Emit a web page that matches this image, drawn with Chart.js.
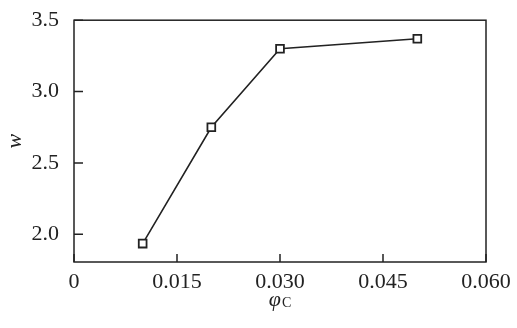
<!DOCTYPE html>
<html>
<head>
<meta charset="utf-8">
<script src="https://cdn.jsdelivr.net/npm/chart.js@4"></script>
<style>
  html, body { margin: 0; padding: 0; background: #fff; }
  #box { width: 517px; height: 328px; }
</style>
</head>
<body>
<div id="box"><canvas id="grafico"></canvas></div>
<script>
const phiC = [0.010, 0.020, 0.030, 0.050]
const wValues = [1.935, 2.75, 3.30, 3.37]
const xTicks = [0, 0.015, 0.030, 0.045, 0.060]
const xTickLabels = ['0', '0.015', '0.030', '0.045', '0.060']
const yTicks = [2.0, 2.5, 3.0, 3.5]
const yTickLabels = ['2.0', '2.5', '3.0', '3.5']

const serif = "'Liberation Serif', 'Times New Roman', Times, serif"
const ink = '#222'

// ticks pointing inward, top/right frame, axis titles
const framePlugin = {
  id: 'frame',
  afterDraw(chart) {
    const { ctx, chartArea: a, scales } = chart
    ctx.save()
    ctx.strokeStyle = ink
    ctx.lineWidth = 1.5
    ctx.strokeRect(a.left, a.top, a.right - a.left, a.bottom - a.top)
    ctx.beginPath()
    xTicks.forEach(v => {
      const x = scales.x.getPixelForValue(v)
      ctx.moveTo(x, a.bottom)
      ctx.lineTo(x, a.bottom - 8)
    })
    yTicks.forEach(v => {
      const y = scales.y.getPixelForValue(v)
      ctx.moveTo(a.left, y)
      ctx.lineTo(a.left + 9, y)
    })
    ctx.stroke()

    ctx.fillStyle = ink
    ctx.textBaseline = 'middle'
    ctx.textAlign = 'center'
    ctx.font = 'italic 22px ' + serif
    ctx.save()
    ctx.translate(15, (a.top + a.bottom) / 2)
    ctx.rotate(-Math.PI / 2)
    ctx.fillText('w', 0, 0)
    ctx.restore()

    const cx = (a.left + a.right) / 2 + 1
    ctx.textAlign = 'right'
    ctx.fillText('φ', cx, 300)
    ctx.textAlign = 'left'
    ctx.font = '14px ' + serif
    ctx.fillText('C', cx + 1, 303)
    ctx.restore()
  }
}

new Chart(document.getElementById('grafico'), {
  type: 'line',
  data: {
    datasets: [{
      data: phiC.map((x, i) => ({ x: x, y: wValues[i] })),
      borderColor: ink,
      borderWidth: 1.6,
      pointStyle: 'rect',
      pointRadius: 5.5,
      pointBorderWidth: 1.8,
      pointBackgroundColor: '#fff',
      pointBorderColor: ink,
      tension: 0
    }]
  },
  options: {
    responsive: true,
    maintainAspectRatio: false,
    animation: false,
    layout: { padding: { top: 8, right: 31, left: 0, bottom: 0 } },
    plugins: { legend: { display: false }, tooltip: { enabled: false } },
    scales: {
      x: {
        type: 'linear',
        min: 0,
        max: 0.060,
        afterBuildTicks: s => { s.ticks = xTicks.map(v => ({ value: v })) },
        afterFit: s => { s.height = 66; s.paddingRight = 0; s.paddingLeft = 0 },
        grid: { display: false },
        border: { display: false },
        ticks: {
          padding: -1,
          color: ink,
          font: { family: serif, size: 22 },
          maxRotation: 0,
          callback: v => xTickLabels[xTicks.indexOf(v)]
        }
      },
      y: {
        min: 1.806,
        max: 3.5,
        afterBuildTicks: s => { s.ticks = yTicks.map(v => ({ value: v })) },
        afterFit: s => { s.width = 74 },
        grid: { display: false },
        border: { display: false },
        ticks: {
          padding: 7,
          color: ink,
          font: { family: serif, size: 22 },
          callback: v => yTickLabels[yTicks.indexOf(v)]
        }
      }
    }
  },
  plugins: [framePlugin]
})
</script>
</body>
</html>
